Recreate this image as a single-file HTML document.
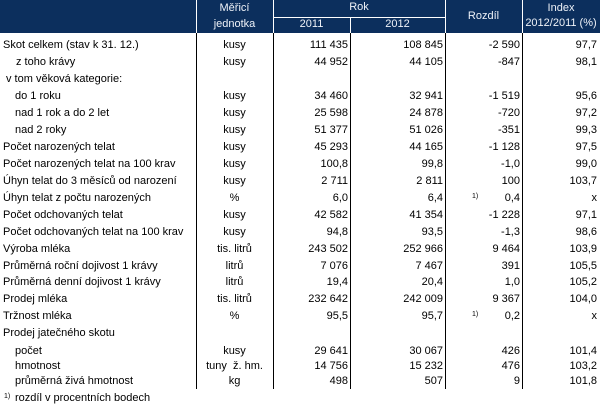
<!DOCTYPE html>
<html><head><meta charset="utf-8">
<style>
html,body{margin:0;padding:0;background:#fff;}
body{width:600px;height:409px;position:relative;overflow:hidden;font-family:"Liberation Sans",Arial,sans-serif;font-size:11px;color:#000;}
.hd{position:absolute;left:0;top:0;width:600px;height:33px;background:#0c2f5d;}
.hl{position:absolute;background:#fff;}
.ht{position:absolute;color:#eef2f8;text-align:center;line-height:13px;white-space:nowrap;}
.vl{position:absolute;top:33px;height:356px;width:1px;background:#000;}
.r{position:absolute;left:0;width:600px;height:17px;line-height:17px;white-space:pre;}
.r span{position:absolute;top:0;}
.c0{left:3px;}
.c1{left:196px;width:77px;text-align:center;}
.c2{right:252px;}
.c3{right:157px;}
.c4{right:80px;}
.c5{right:3px;}
.sup{position:absolute;font-size:7px;line-height:8px;}
</style></head><body>
<div class="hd"></div>
<div class="hl" style="left:196px;top:0;width:1px;height:33px"></div>
<div class="hl" style="left:273px;top:0;width:1px;height:33px"></div>
<div class="hl" style="left:445px;top:0;width:1px;height:33px"></div>
<div class="hl" style="left:522px;top:0;width:1px;height:33px"></div>
<div class="hl" style="left:350px;top:17px;width:1px;height:16px"></div>
<div class="hl" style="left:273px;top:17px;width:172px;height:1px"></div>
<div class="ht" style="left:196px;width:77px;top:2px">Měřicí</div>
<div class="ht" style="left:196px;width:77px;top:18px">jednotka</div>
<div class="ht" style="left:273px;width:172px;top:1px">Rok</div>
<div class="ht" style="left:273px;width:77px;top:18px">2011</div>
<div class="ht" style="left:350px;width:95px;top:18px">2012</div>
<div class="ht" style="left:445px;width:77px;top:10px">Rozdíl</div>
<div class="ht" style="left:522px;width:78px;top:2px">Index</div>
<div class="ht" style="left:522px;width:78px;top:17px">2012/2011 (%)</div>

<div class="vl" style="left:196px"></div>
<div class="vl" style="left:273px"></div>
<div class="vl" style="left:350px"></div>
<div class="vl" style="left:445px"></div>
<div class="vl" style="left:522px"></div>

<div class="r" style="top:37px"><span class="c0">Skot celkem (stav k 31. 12.)</span><span class="c1">kusy</span><span class="c2">111 435</span><span class="c3">108 845</span><span class="c4">-2 590</span><span class="c5">97,7</span></div>
<div class="r" style="top:54px"><span class="c0" style="left:16px">z toho krávy</span><span class="c1">kusy</span><span class="c2">44 952</span><span class="c3">44 105</span><span class="c4">-847</span><span class="c5">98,1</span></div>
<div class="r" style="top:71px"><span class="c0" style="left:6px">v tom věková kategorie:</span></div>
<div class="r" style="top:88px"><span class="c0" style="left:15px">do 1 roku</span><span class="c1">kusy</span><span class="c2">34 460</span><span class="c3">32 941</span><span class="c4">-1 519</span><span class="c5">95,6</span></div>
<div class="r" style="top:105px"><span class="c0" style="left:15px">nad 1 rok a do 2 let</span><span class="c1">kusy</span><span class="c2">25 598</span><span class="c3">24 878</span><span class="c4">-720</span><span class="c5">97,2</span></div>
<div class="r" style="top:122px"><span class="c0" style="left:15px">nad 2 roky</span><span class="c1">kusy</span><span class="c2">51 377</span><span class="c3">51 026</span><span class="c4">-351</span><span class="c5">99,3</span></div>
<div class="r" style="top:139px"><span class="c0">Počet narozených telat</span><span class="c1">kusy</span><span class="c2">45 293</span><span class="c3">44 165</span><span class="c4">-1 128</span><span class="c5">97,5</span></div>
<div class="r" style="top:156px"><span class="c0">Počet narozených telat na 100 krav</span><span class="c1">kusy</span><span class="c2">100,8</span><span class="c3">99,8</span><span class="c4">-1,0</span><span class="c5">99,0</span></div>
<div class="r" style="top:173px"><span class="c0">Úhyn telat do 3 měsíců od narození</span><span class="c1">kusy</span><span class="c2">2 711</span><span class="c3">2 811</span><span class="c4">100</span><span class="c5">103,7</span></div>
<div class="r" style="top:190px"><span class="c0">Úhyn telat z počtu narozených</span><span class="c1">%</span><span class="c2">6,0</span><span class="c3">6,4</span><span class="sup" style="left:472px;top:3px">1)</span><span class="c4">0,4</span><span class="c5">x</span></div>
<div class="r" style="top:207px"><span class="c0">Počet odchovaných telat</span><span class="c1">kusy</span><span class="c2">42 582</span><span class="c3">41 354</span><span class="c4">-1 228</span><span class="c5">97,1</span></div>
<div class="r" style="top:224px"><span class="c0">Počet odchovaných telat na 100 krav</span><span class="c1">kusy</span><span class="c2">94,8</span><span class="c3">93,5</span><span class="c4">-1,3</span><span class="c5">98,6</span></div>
<div class="r" style="top:241px"><span class="c0">Výroba mléka</span><span class="c1">tis. litrů</span><span class="c2">243 502</span><span class="c3">252 966</span><span class="c4">9 464</span><span class="c5">103,9</span></div>
<div class="r" style="top:258px"><span class="c0">Průměrná roční dojivost 1 krávy</span><span class="c1">litrů</span><span class="c2">7 076</span><span class="c3">7 467</span><span class="c4">391</span><span class="c5">105,5</span></div>
<div class="r" style="top:274px"><span class="c0">Průměrná denní dojivost 1 krávy</span><span class="c1">litrů</span><span class="c2">19,4</span><span class="c3">20,4</span><span class="c4">1,0</span><span class="c5">105,2</span></div>
<div class="r" style="top:291px"><span class="c0">Prodej mléka</span><span class="c1">tis. litrů</span><span class="c2">232 642</span><span class="c3">242 009</span><span class="c4">9 367</span><span class="c5">104,0</span></div>
<div class="r" style="top:308px"><span class="c0">Tržnost mléka</span><span class="c1">%</span><span class="c2">95,5</span><span class="c3">95,7</span><span class="sup" style="left:472px;top:3px">1)</span><span class="c4">0,2</span><span class="c5">x</span></div>
<div class="r" style="top:325px"><span class="c0">Prodej jatečného skotu</span></div>
<div class="r" style="top:343px"><span class="c0" style="left:15px">počet</span><span class="c1">kusy</span><span class="c2">29 641</span><span class="c3">30 067</span><span class="c4">426</span><span class="c5">101,4</span></div>
<div class="r" style="top:358px"><span class="c0" style="left:15px">hmotnost</span><span class="c1">tuny  ž. hm.</span><span class="c2">14 756</span><span class="c3">15 232</span><span class="c4">476</span><span class="c5">103,2</span></div>
<div class="r" style="top:373px"><span class="c0" style="left:15px">průměrná živá hmotnost</span><span class="c1">kg</span><span class="c2">498</span><span class="c3">507</span><span class="c4">9</span><span class="c5">101,8</span></div>
<div class="r" style="top:390px"><span class="sup" style="left:4px;top:3px">1)</span><span class="c0" style="left:15px">rozdíl v procentních bodech</span></div>
</body></html>
